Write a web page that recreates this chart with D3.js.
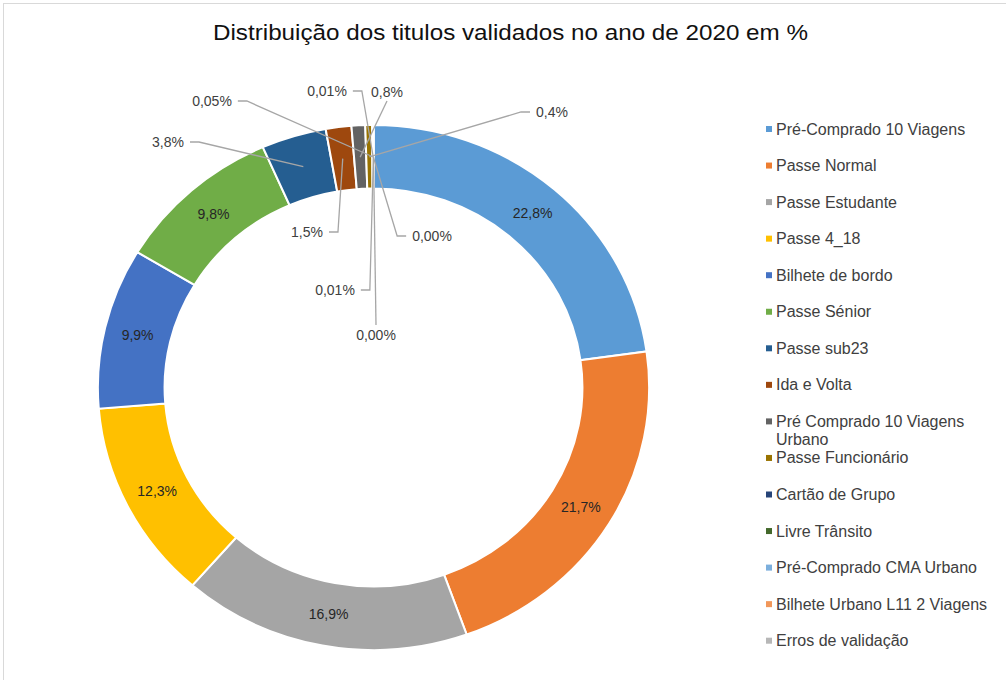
<!DOCTYPE html>
<html>
<head>
<meta charset="utf-8">
<script src="https://cdn.jsdelivr.net/npm/d3@7"></script>
<style>
  html, body { margin: 0; padding: 0; background: #fff; }
  svg { display: block; font-family: "Liberation Sans", Arial, sans-serif; }
</style>
</head>
<body>
<svg id="chart" width="1006" height="680"></svg>
<script>
// ---- data ----
const title = "Distribuição dos titulos validados no ano de 2020 em %";
const categories = [
  "Pré-Comprado 10 Viagens", "Passe Normal", "Passe Estudante", "Passe 4_18",
  "Bilhete de bordo", "Passe Sénior", "Passe sub23", "Ida e Volta",
  "Pré Comprado 10 Viagens Urbano", "Passe Funcionário", "Cartão de Grupo",
  "Livre Trânsito", "Pré-Comprado CMA Urbano", "Bilhete Urbano L11 2 Viagens",
  "Erros de validação"
];
const values = [22.8, 21.7, 16.9, 12.3, 9.9, 9.8, 3.8, 1.5, 0.8, 0.4, 0.05, 0.01, 0.004, 0.01, 0.002];
const colors = [
  "#5B9BD5", "#ED7D31", "#A5A5A5", "#FFC000", "#4472C4", "#70AD47", "#255E91",
  "#9E480E", "#636363", "#997300", "#264478", "#43682B", "#7CAFDD", "#F1975A", "#B7B7B7"
];
// legend line breaks (wrapped entries)
const legendLines = categories.map(c => c === "Pré Comprado 10 Viagens Urbano" ? ["Pré Comprado 10 Viagens", "Urbano"] : [c]);

// manual placement of dragged data labels (offset from ring centre) and the side their leader attaches to
const leaderLayout = [
  {i: 6,  dx: -205.5, dy: -245.5, side: "right"},
  {i: 7,  dx: -66.5,  dy: -155.5, side: "right"},
  {i: 8,  dx: 13.5,   dy: -295.5, side: "bottom"},
  {i: 9,  dx: 178.5,  dy: -275.5, side: "left"},
  {i: 10, dx: -161.5, dy: -286.5, side: "right"},
  {i: 11, dx: -46.5,  dy: -296.5, side: "right"},
  {i: 12, dx: 58.5,   dy: -151.5, side: "left"},
  {i: 13, dx: -38.5,  dy: -97.5,  side: "right"},
  {i: 14, dx: 2.5,    dy: -52.5,  side: "top"}
];

// ---- layout ----
const W = 1006, H = 680;
const cx = 373.5, cy = 387.5;
const rOuter = 262.5, rInner = 199, sx = 1.05;
const labelColor = "#404040";

const svg = d3.select("#chart");

svg.append("rect").attr("x", 3.5).attr("y", 3.5).attr("width", W + 20).attr("height", H + 20)
  .attr("fill", "#fff").attr("stroke", "#d9d9d9").attr("stroke-width", 1);

svg.append("text").attr("x", 510.5).attr("y", 40).attr("text-anchor", "middle")
  .attr("font-size", 22).attr("fill", "#111")
  .attr("textLength", 595).attr("lengthAdjust", "spacingAndGlyphs")
  .text(title);

const fmt = v => (v < 0.1 ? v.toFixed(2) : v.toFixed(1)).replace(".", ",") + "%";

const pie = d3.pie().sort(null).value(d => d);
const arcs = pie(values);
const arc = d3.arc().innerRadius(rInner).outerRadius(rOuter);

const ring = svg.append("g").attr("transform", `translate(${cx},${cy}) scale(${sx},1)`);
ring.selectAll("path").data(arcs).join("path")
  .attr("d", arc)
  .attr("fill", (d, i) => colors[i])
  .attr("stroke", "#fff").attr("stroke-width", 2)
  .attr("vector-effect", "non-scaling-stroke");

const pos = d => { const c = arc.centroid(d); return [cx + c[0] * sx, cy + c[1]]; };

const leaderSet = new Set(leaderLayout.map(d => d.i));
const labels = svg.append("g").attr("font-size", 14).attr("fill", labelColor);

// in-slice labels
labels.selectAll("text.in").data(arcs.filter((d, i) => !leaderSet.has(i))).join("text")
  .attr("class", "in")
  .attr("x", d => pos(d)[0]).attr("y", d => pos(d)[1])
  .attr("text-anchor", "middle").attr("dominant-baseline", "central")
  .attr("fill", "#262626")
  .text(d => fmt(d.data));

// leader labels
const leaders = svg.append("g").attr("fill", "none").attr("stroke", "#A6A6A6").attr("stroke-width", 1.3);
leaderLayout.forEach(L => {
  const d = arcs[L.i];
  const lx = cx + L.dx, ly = cy + L.dy;
  const t = labels.append("text").attr("x", lx).attr("y", ly)
    .attr("text-anchor", "middle").attr("dominant-baseline", "central").text(fmt(d.data));
  const w = t.node().getComputedTextLength();
  const [ax, ay] = pos(d);
  let pts;
  if (L.side === "right") {
    const x0 = lx + w / 2 + 6;
    pts = [[x0, ly], [x0 + 9, ly], [ax, ay]];
  } else if (L.side === "left") {
    const x0 = lx - w / 2 - 6;
    pts = [[x0, ly], [x0 - 9, ly], [ax, ay]];
  } else if (L.side === "bottom") {
    pts = [[lx, ly + 9], [ax, ay]];
  } else {
    pts = [[lx, ly - 10], [ax, ay]];
  }
  leaders.append("path").attr("d", d3.line()(pts));
});

// legend
const legend = svg.append("g").attr("font-size", 16).attr("fill", labelColor);
const ly0 = 129, lstep = 36.55;
categories.forEach((c, i) => {
  const y = ly0 + i * lstep;
  legend.append("rect").attr("x", 766).attr("y", y - 3).attr("width", 6).attr("height", 6).attr("fill", colors[i]);
  legendLines[i].forEach((line, k) => {
    legend.append("text").attr("x", 776).attr("y", y + k * 18.5)
      .attr("dominant-baseline", "central").text(line);
  });
});
</script>
</body>
</html>
